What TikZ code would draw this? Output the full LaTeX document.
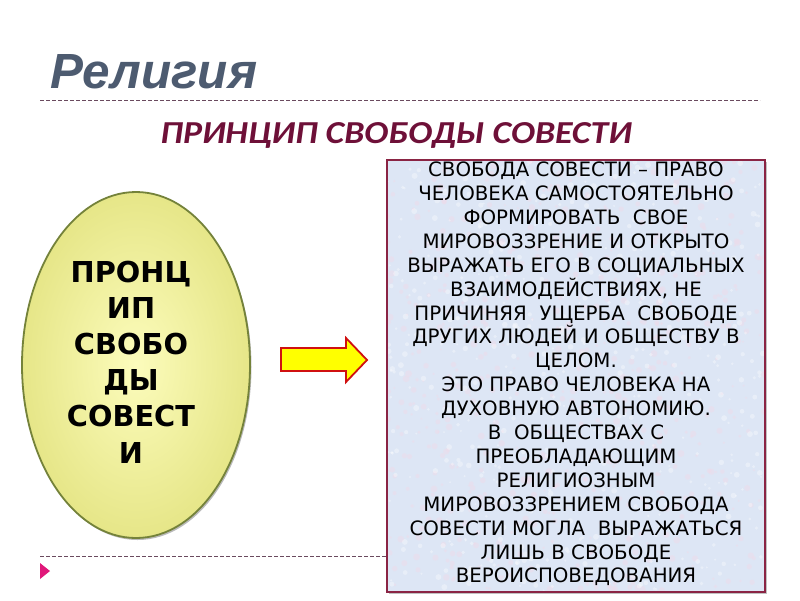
\documentclass[tikz,border=0pt]{standalone}
\usepackage{fontspec}
\setmainfont{DejaVu Sans}
\newfontfamily\titlefont{Liberation Sans}
\newfontfamily\subfont{Carlito}
\newfontfamily\boxfont{DejaVu Sans}
\usetikzlibrary{shapes.geometric,shadows}
\definecolor{titlecol}{HTML}{4D5B70}
\definecolor{subcol}{HTML}{6E1038}
\definecolor{dashcol}{HTML}{6A4A5E}
\definecolor{tricol}{HTML}{E0187A}
\definecolor{ellin}{HTML}{FCFCBC}
\definecolor{ellout}{HTML}{E6E688}
\definecolor{ellborder}{HTML}{74823A}
\definecolor{boxfill}{HTML}{DDE6F5}
\definecolor{boxspeck}{HTML}{EEDCEA}
\definecolor{boxborder}{HTML}{8A2444}
\definecolor{arrfill}{HTML}{FFFF00}
\definecolor{arrborder}{HTML}{D01010}
\tikzset{
  sepline/.style={draw=dashcol, line width=0.8pt, dash pattern=on 4pt off 2pt},
  ellbox/.style={ellipse, draw=ellborder, line width=1.8pt, inner color=ellin, outer color=ellout,
     minimum width=228pt, minimum height=346pt, inner sep=0pt,
     drop shadow={shadow xshift=1.5pt, shadow yshift=-2pt, fill=black!45, opacity=0.6}},
  infobox/.style={draw=boxborder, line width=1.4pt, fill=boxfill,
     drop shadow={shadow xshift=2pt, shadow yshift=-2pt, fill=black!40, opacity=0.6}},
  blockarrow/.style={draw=arrborder, fill=arrfill, line width=1.8pt, line join=miter}
}
\begin{document}
\begin{tikzpicture}[x=1pt,y=-1pt]
\useasboundingbox (0,0) rectangle (800,600);
\fill[white] (0,0) rectangle (800,600);
% title
\node[anchor=base west, inner sep=0pt, text=titlecol, font=\titlefont\bfseries\itshape\fontsize{49.4}{52}\selectfont] (title) at (50,88) {Религия};
\coordinate (d1a) at (40,100);
\coordinate (d1b) at (760,100);
\draw[sepline] (d1a) -- (d1b);
\node[inner sep=0pt, text=subcol, font=\subfont\bfseries\itshape\fontsize{32}{34}\selectfont] (sub) at (396,135) {\scalebox{1.12}[1]{ПРИНЦИП СВОБОДЫ СОВЕСТИ}};
% ellipse
\node[ellbox] (ell) at (136,365) {};
\node[align=center, inner sep=0pt, font=\bfseries\fontsize{28.8}{36.2}\selectfont] (elltext) at (131,362)
  {ПРОНЦ\\ИП\\СВОБО\\ДЫ\\СОВЕСТ\\И};
% arrow
\draw[blockarrow] (281,348) -- (346,348) -- (346,338) -- (367,360) -- (346,382) -- (346,371) -- (281,371) -- cycle;
% box
\path[infobox] (387,160) rectangle (765,592);
\begin{scope}
\clip (387,160) rectangle (765,592);
\pgfmathsetseed{7}
\foreach \i in {1,...,700}{
  \pgfmathsetmacro{\px}{387+378*rnd}
  \pgfmathsetmacro{\py}{160+432*rnd}
  \pgfmathsetmacro{\pr}{1+2.5*rnd}
  \fill[boxspeck, opacity=0.5] (\px,\py) circle[radius=\pr];
}
\foreach \i in {1,...,600}{
  \pgfmathsetmacro{\px}{387+378*rnd}
  \pgfmathsetmacro{\py}{160+432*rnd}
  \pgfmathsetmacro{\pr}{1+2*rnd}
  \fill[white, opacity=0.35] (\px,\py) circle[radius=\pr];
}
\node[align=center, inner sep=0pt, font=\boxfont\fontsize{19.8}{23.9}\selectfont] (boxtext) at (576,374)
  {СВОБОДА СОВЕСТИ – ПРАВО\\
   ЧЕЛОВЕКА САМОСТОЯТЕЛЬНО\\
   ФОРМИРОВАТЬ \ СВОЕ\\
   МИРОВОЗЗРЕНИЕ И ОТКРЫТО\\
   ВЫРАЖАТЬ ЕГО В СОЦИАЛЬНЫХ\\
   ВЗАИМОДЕЙСТВИЯХ, НЕ\\
   ПРИЧИНЯЯ \ УЩЕРБА \ СВОБОДЕ\\
   ДРУГИХ ЛЮДЕЙ И ОБЩЕСТВУ В\\
   ЦЕЛОМ.\\
   ЭТО ПРАВО ЧЕЛОВЕКА НА\\
   ДУХОВНУЮ АВТОНОМИЮ.\\
   В \ ОБЩЕСТВАХ С\\
   ПРЕОБЛАДАЮЩИМ\\
   РЕЛИГИОЗНЫМ\\
   МИРОВОЗЗРЕНИЕМ СВОБОДА\\
   СОВЕСТИ МОГЛА \ ВЫРАЖАТЬСЯ\\
   ЛИШЬ В СВОБОДЕ\\
   ВЕРОИСПОВЕДОВАНИЯ};
\end{scope}
\draw[draw=boxborder, line width=1.4pt] (387,160) rectangle (765,592);
% bottom line and marker
\coordinate (d2a) at (40,556);
\coordinate (d2b) at (387,556);
\draw[sepline] (d2a) -- (d2b);
\fill[tricol] (40,563) -- (50,571) -- (40,579) -- cycle;
\end{tikzpicture}
\end{document}
